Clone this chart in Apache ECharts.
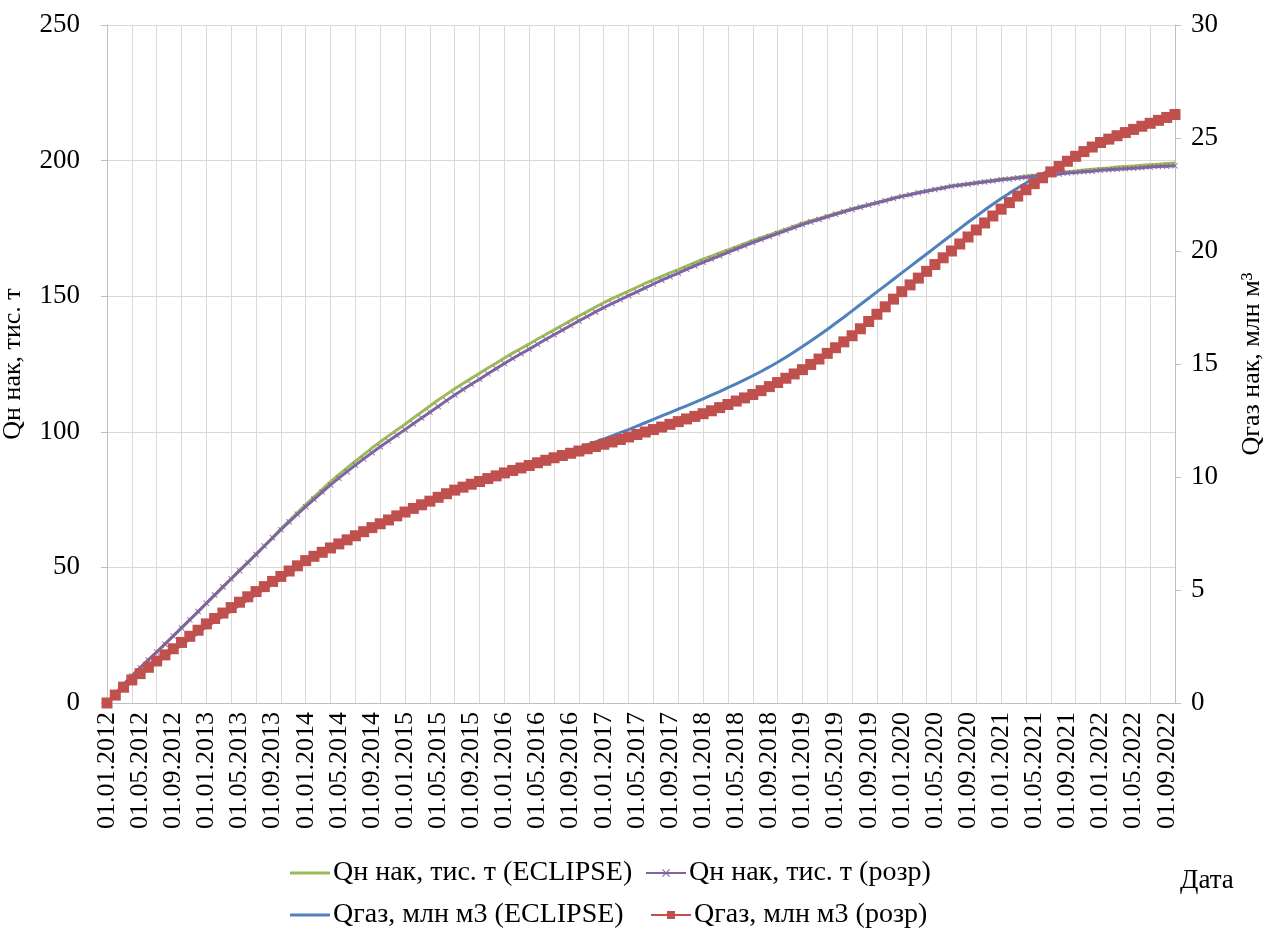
<!DOCTYPE html>
<html>
<head>
<meta charset="utf-8">
<script src="https://cdn.jsdelivr.net/npm/echarts@6/dist/echarts.min.js"></script>
<style>html,body{margin:0;padding:0;background:#fff}#c{width:1265px;height:929px}</style>
</head>
<body>
<div id="c"></div>
<script>
const categories = [
'01.01.2012','01.02.2012','01.03.2012','01.04.2012','01.05.2012','01.06.2012','01.07.2012','01.08.2012','01.09.2012','01.10.2012','01.11.2012','01.12.2012',
'01.01.2013','01.02.2013','01.03.2013','01.04.2013','01.05.2013','01.06.2013','01.07.2013','01.08.2013','01.09.2013','01.10.2013','01.11.2013','01.12.2013',
'01.01.2014','01.02.2014','01.03.2014','01.04.2014','01.05.2014','01.06.2014','01.07.2014','01.08.2014','01.09.2014','01.10.2014','01.11.2014','01.12.2014',
'01.01.2015','01.02.2015','01.03.2015','01.04.2015','01.05.2015','01.06.2015','01.07.2015','01.08.2015','01.09.2015','01.10.2015','01.11.2015','01.12.2015',
'01.01.2016','01.02.2016','01.03.2016','01.04.2016','01.05.2016','01.06.2016','01.07.2016','01.08.2016','01.09.2016','01.10.2016','01.11.2016','01.12.2016',
'01.01.2017','01.02.2017','01.03.2017','01.04.2017','01.05.2017','01.06.2017','01.07.2017','01.08.2017','01.09.2017','01.10.2017','01.11.2017','01.12.2017',
'01.01.2018','01.02.2018','01.03.2018','01.04.2018','01.05.2018','01.06.2018','01.07.2018','01.08.2018','01.09.2018','01.10.2018','01.11.2018','01.12.2018',
'01.01.2019','01.02.2019','01.03.2019','01.04.2019','01.05.2019','01.06.2019','01.07.2019','01.08.2019','01.09.2019','01.10.2019','01.11.2019','01.12.2019',
'01.01.2020','01.02.2020','01.03.2020','01.04.2020','01.05.2020','01.06.2020','01.07.2020','01.08.2020','01.09.2020','01.10.2020','01.11.2020','01.12.2020',
'01.01.2021','01.02.2021','01.03.2021','01.04.2021','01.05.2021','01.06.2021','01.07.2021','01.08.2021','01.09.2021','01.10.2021','01.11.2021','01.12.2021',
'01.01.2022','01.02.2022','01.03.2022','01.04.2022','01.05.2022','01.06.2022','01.07.2022','01.08.2022','01.09.2022','01.10.2022'
];

// Qн нак, тис. т (ECLIPSE) — left axis
const oilEclipse = [
0,3.4,6.8,10.0,13.0,15.9,18.8,21.7,24.7,27.7,30.7,33.7,
36.8,39.8,42.8,45.8,48.8,51.8,54.8,57.9,60.9,64.2,67.2,70.2,
73.2,76.0,78.8,81.6,84.2,86.7,89.2,91.6,94.0,96.3,98.5,100.7,
102.8,105.1,107.3,109.5,111.7,113.8,115.9,117.8,119.7,121.6,123.5,125.3,
127.2,129.0,130.7,132.4,134.2,135.9,137.6,139.3,141.0,142.7,144.3,146.0,
147.6,149.1,150.5,151.9,153.3,154.7,156.0,157.3,158.6,159.8,161.1,162.4,
163.7,164.8,166.0,167.1,168.2,169.4,170.6,171.6,172.6,173.7,174.7,175.8,
176.9,177.8,178.7,179.6,180.5,181.4,182.3,183.1,183.8,184.6,185.4,186.2,
187.0,187.6,188.3,188.9,189.5,190.1,190.7,191.1,191.5,191.9,192.4,192.8,
193.2,193.5,193.9,194.3,194.6,195.0,195.4,195.6,195.9,196.2,196.5,196.8,
197.1,197.3,197.6,197.8,198.0,198.3,198.5,198.7,198.9,199.1
];

// Qн нак, тис. т (розр) — left axis
const oilCalc = [
0,3.4,6.8,10.0,13.0,15.9,18.8,21.7,24.7,27.7,30.7,33.7,
36.8,39.8,42.8,45.8,48.8,51.8,54.8,57.9,60.9,63.9,66.8,69.6,
72.4,75.1,77.8,80.4,82.9,85.3,87.7,90.0,92.3,94.5,96.6,98.7,
100.8,103.0,105.1,107.2,109.3,111.5,113.6,115.6,117.5,119.4,121.4,123.3,
125.2,127.0,128.8,130.5,132.3,134.1,135.8,137.5,139.2,140.9,142.5,144.2,
145.8,147.3,148.7,150.2,151.6,153.1,154.5,155.9,157.2,158.5,159.9,161.2,
162.5,163.7,164.9,166.2,167.4,168.6,169.8,170.9,172.0,173.1,174.2,175.3,
176.4,177.4,178.3,179.3,180.2,181.1,182.0,182.8,183.6,184.4,185.2,186.0,
186.8,187.4,188.1,188.7,189.3,189.9,190.5,190.9,191.3,191.7,192.1,192.5,
192.9,193.2,193.6,193.9,194.2,194.6,194.9,195.1,195.4,195.6,195.9,196.1,
196.4,196.6,196.8,197.0,197.2,197.4,197.6,197.8,197.9,198.1
];

// Qгаз, млн м3 (ECLIPSE) — right axis
const gasEclipse = [
0,0.33,0.66,0.96,1.24,1.51,1.78,2.04,2.30,2.57,2.83,3.10,
3.37,3.60,3.84,4.08,4.32,4.56,4.80,5.03,5.26,5.49,5.73,5.97,
6.21,6.43,6.63,6.83,7.02,7.20,7.38,7.56,7.74,7.91,8.08,8.26,
8.43,8.60,8.76,8.92,9.09,9.25,9.41,9.55,9.68,9.81,9.94,10.07,
10.20,10.32,10.44,10.56,10.68,10.80,10.92,11.04,11.16,11.29,11.42,11.55,
11.68,11.82,11.96,12.10,12.25,12.40,12.55,12.70,12.85,13.00,13.15,13.30,
13.46,13.62,13.78,13.95,14.12,14.30,14.48,14.67,14.87,15.08,15.30,15.53,
15.77,16.02,16.27,16.53,16.80,17.07,17.35,17.63,17.91,18.19,18.47,18.75,
19.03,19.31,19.59,19.87,20.15,20.43,20.71,20.99,21.27,21.54,21.81,22.07,
22.32,22.56,22.79,23.01,23.22,23.42,23.61,23.80,23.98,24.16,24.33,24.50,
24.66,24.82,24.97,25.12,25.27,25.41,25.55,25.69,25.83,25.97
];

// Qгаз, млн м3 (розр) — right axis
const gasCalc = [
0,0.35,0.70,1.02,1.30,1.58,1.86,2.13,2.40,2.68,2.95,3.22,
3.50,3.74,3.98,4.22,4.46,4.70,4.93,5.15,5.38,5.60,5.84,6.07,
6.30,6.49,6.67,6.86,7.04,7.22,7.40,7.58,7.76,7.93,8.10,8.28,
8.45,8.61,8.77,8.93,9.10,9.26,9.42,9.55,9.68,9.80,9.93,10.05,
10.18,10.29,10.40,10.51,10.63,10.74,10.85,10.95,11.05,11.15,11.25,11.35,
11.45,11.55,11.66,11.77,11.88,11.99,12.10,12.21,12.33,12.45,12.57,12.68,
12.80,12.93,13.07,13.21,13.36,13.50,13.65,13.82,14.00,14.18,14.37,14.56,
14.75,14.98,15.22,15.47,15.72,15.98,16.25,16.56,16.88,17.20,17.53,17.87,
18.20,18.50,18.80,19.10,19.40,19.70,20.00,20.31,20.62,20.93,21.24,21.55,
21.85,22.14,22.43,22.71,22.98,23.24,23.50,23.74,23.97,24.19,24.40,24.60,
24.80,24.95,25.10,25.24,25.38,25.52,25.65,25.78,25.91,26.04
];

const names = ['Qн нак, тис. т (ECLIPSE)','Qн нак, тис. т (розр)','Qгаз, млн м3 (ECLIPSE)','Qгаз, млн м3 (розр)'];
const colors = ['#9BBB59','#8064A2','#4F81BD','#C0504D'];

const FONT = 'Liberation Serif';
const crossPath = 'path://M0,1 L1,0 L5,4 L9,0 L10,1 L6,5 L10,9 L9,10 L5,6 L1,10 L0,9 L4,5 Z';
const linePath = 'path://M0,0 L40,0 L40,3 L0,3 Z';

function legend(name, left, top, plain) {
  const item = {name: name};
  if (plain) item.icon = linePath;
  return {
    data: [item], left: left, top: top, orient: 'horizontal',
    itemWidth: 40, itemHeight: plain ? 3 : 10, itemGap: 4, padding: 0,
    textStyle: {fontFamily: FONT, fontSize: 28, color: '#000', padding: [0,0,0,-2]},
    selectedMode: false
  };
}

const chart = echarts.init(document.getElementById('c'), null, {renderer: 'canvas'});
chart.setOption({
  backgroundColor: '#fff',
  animation: false,
  color: colors,
  grid: {left: 107, right: 90, top: 25, bottom: 226, containLabel: false, outerBoundsMode: 'none'},
  legend: [
    legend(names[0], 290, 859, true),
    legend(names[1], 645, 859, false),
    legend(names[2], 290, 901, true),
    legend(names[3], 650, 901, false)
  ],
  xAxis: {
    type: 'category', data: categories, boundaryGap: false,
    name: 'Дата', nameLocation: 'end', nameGap: 5,
    nameTextStyle: {fontFamily: FONT, fontSize: 27, color: '#000', verticalAlign: 'top', padding: [164,0,0,0]},
    axisLine: {lineStyle: {color: '#bfbfbf', width: 1}},
    axisTick: {show: false},
    axisLabel: {interval: 3, rotate: 90, margin: 9, fontFamily: FONT, fontSize: 26, color: '#000'},
    splitLine: {show: true, interval: 2, lineStyle: {color: '#d9d9d9', width: 1}}
  },
  yAxis: [
    {
      type: 'value', min: 0, max: 250, interval: 50, position: 'left',
      name: 'Qн нак, тис. т', nameLocation: 'middle', nameRotate: 90, nameGap: 81,
      nameTextStyle: {fontFamily: FONT, fontSize: 26, color: '#000'},
      axisLine: {show: true, lineStyle: {color: '#bfbfbf'}},
      axisTick: {show: true, length: 6, lineStyle: {color: '#bfbfbf'}},
      axisLabel: {margin: 27, fontFamily: FONT, fontSize: 27, color: '#000'},
      splitLine: {show: true, lineStyle: {color: '#d9d9d9', width: 1}}
    },
    {
      type: 'value', min: 0, max: 30, interval: 5, position: 'right',
      name: 'Qгаз нак, млн м³', nameLocation: 'middle', nameRotate: 90, nameGap: 64,
      nameTextStyle: {fontFamily: FONT, fontSize: 26, color: '#000'},
      axisLine: {show: true, lineStyle: {color: '#bfbfbf'}},
      axisTick: {show: true, length: 6, lineStyle: {color: '#bfbfbf'}},
      axisLabel: {margin: 16, fontFamily: FONT, fontSize: 27, color: '#000'},
      splitLine: {show: false}
    }
  ],
  series: [
    {name: names[0], type: 'line', yAxisIndex: 0, data: oilEclipse, showSymbol: false, symbol: 'none',
     lineStyle: {color: colors[0], width: 3}, itemStyle: {color: colors[0]}, z: 2},
    {name: names[1], type: 'line', yAxisIndex: 0, data: oilCalc, symbol: crossPath, symbolSize: 6, showAllSymbol: true,
     lineStyle: {color: colors[1], width: 3}, itemStyle: {color: colors[1]}, z: 3},
    {name: names[2], type: 'line', yAxisIndex: 1, data: gasEclipse, showSymbol: false, symbol: 'none',
     lineStyle: {color: colors[2], width: 3}, itemStyle: {color: colors[2]}, z: 4},
    {name: names[3], type: 'line', yAxisIndex: 1, data: gasCalc, symbol: 'rect', symbolSize: 11, showAllSymbol: true,
     lineStyle: {color: colors[3], width: 3}, itemStyle: {color: colors[3]}, z: 5}
  ]
});
</script>
</body>
</html>
